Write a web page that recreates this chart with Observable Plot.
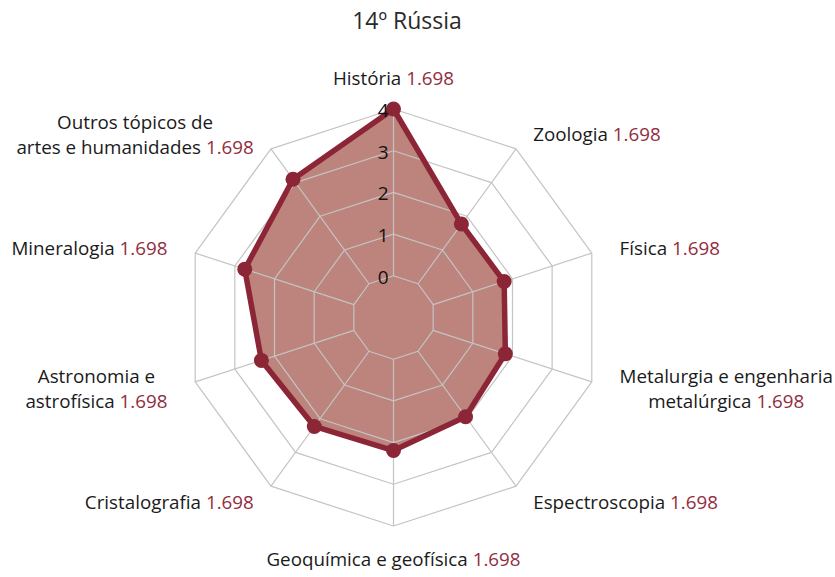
<!DOCTYPE html>
<html><head><meta charset="utf-8">
<script src="https://cdn.jsdelivr.net/npm/d3@7"></script>
<script src="https://cdn.jsdelivr.net/npm/@observablehq/plot@0.6"></script>
<style>
body{margin:0;background:#fff;font-family:"Open Sans","Noto Sans",sans-serif;}
#title{height:40px;line-height:40px;text-align:center;font-size:23px;color:#2a2a2a;padding-right:21px;}
#chart svg{display:block;}
</style></head><body>
<div id="title">14º Rússia</div>
<div id="chart"></div>
<script>
// ---- data ----
const categories = [
  "História",
  "Zoologia",
  "Física",
  "Metalurgia e engenharia\nmetalúrgica",
  "Espectroscopia",
  "Geoquímica e geofísica",
  "Cristalografia",
  "Astronomia e\nastrofísica",
  "Mineralogia",
  "Outros tópicos de\nartes e humanidades"
];
const values = [4, 1.77, 1.79, 1.82, 1.94, 2.19, 2.23, 2.33, 2.75, 3.1];
const shownValues = ["1.698","1.698","1.698","1.698","1.698","1.698","1.698","1.698","1.698","1.698"];
const ticks = [0, 1, 2, 3, 4];
const centerValue = -1;

// ---- layout ----
const W = 835, H = 537, unit = 41.7, cx = 393, cy = 277;
const labelRx = 5.7, labelRy = 5.45;
const red = "#8c2636";
const numColor = "#922d3d";

const n = categories.length;
const ang = i => (i * 2 * Math.PI) / n;
const rad = v => v - centerValue;

const rings = ticks.flatMap(t =>
  d3.range(n + 1).map(i => ({ring: t, x: rad(t) * Math.sin(ang(i % n)), y: rad(t) * Math.cos(ang(i % n))}))
);
const spokes = categories.map((c, i) => ({
  x1: rad(ticks[0]) * Math.sin(ang(i)), y1: rad(ticks[0]) * Math.cos(ang(i)),
  x2: rad(ticks[ticks.length - 1]) * Math.sin(ang(i)), y2: rad(ticks[ticks.length - 1]) * Math.cos(ang(i))
}));
const pts = values.map((v, i) => ({x: rad(v) * Math.sin(ang(i)), y: rad(v) * Math.cos(ang(i))}));
const poly = [...pts, pts[0]];
const labels = categories.map((c, i) => ({
  text: c + " " + shownValues[i],
  x: labelRx * Math.sin(ang(i)), y: labelRy * Math.cos(ang(i)),
  s: Math.sin(ang(i)), c: Math.cos(ang(i))
}));

const plot = Plot.plot({
  width: W, height: H,
  margin: 0,
  x: {domain: [-cx / unit, (W - cx) / unit], axis: null},
  y: {domain: [-(H - cy) / unit, cy / unit], axis: null},
  style: {fontFamily: "'Open Sans', 'Noto Sans', sans-serif", background: "#fff"},
  marks: [
    Plot.line(poly, {x: "x", y: "y", fill: "#bc847d", stroke: "none"}),
    Plot.line(rings, {x: "x", y: "y", z: "ring", stroke: "#c4c4c4", strokeWidth: 1.2}),
    Plot.link(spokes, {x1: "x1", y1: "y1", x2: "x2", y2: "y2", stroke: "#c4c4c4", strokeWidth: 1.2}),
    Plot.line(poly, {x: "x", y: "y", stroke: red, strokeWidth: 5.5, strokeLinejoin: "round"}),
    Plot.dot(pts, {x: "x", y: "y", r: 7.5, fill: red}),
    Plot.text(ticks, {x: t => 0, y: t => rad(t), text: t => String(t), textAnchor: "end", dx: -5, dy: 2, fontSize: 19, fill: "#111"}),
    Plot.text(labels, {x: "x", y: "y", text: "text", textAnchor: "middle", lineAnchor: "middle", lineHeight: 1.3, fontSize: 18.8, fill: "#1a1a1a", className: "cat-label"})
  ]
});
document.getElementById("chart").appendChild(plot);

// colour the numbers and let side labels hang off their anchor points
const ns = "http://www.w3.org/2000/svg";
const texts = plot.querySelectorAll("g.cat-label text");
texts.forEach((t, i) => {
  const spans = t.querySelectorAll("tspan");
  const num = document.createElementNS(ns, "tspan");
  num.setAttribute("fill", numColor);
  num.textContent = shownValues[i];
  if (spans.length) {
    const last = spans[spans.length - 1];
    const s = last.textContent;
    last.textContent = s.slice(0, s.lastIndexOf(shownValues[i]));
    last.after(num);
  } else {
    const s = t.textContent;
    t.textContent = "";
    const name = document.createElementNS(ns, "tspan");
    name.textContent = s.slice(0, s.lastIndexOf(shownValues[i]));
    t.appendChild(name);
    t.appendChild(num);
  }
  const b = t.getBBox();
  const L = labels[i];
  const dx = L.s > 0.1 ? b.width / 2 : L.s < -0.1 ? -b.width / 2 : 0;
  const dy = Math.abs(L.s) < 0.1 ? -L.c * b.height / 2 : 0;
  t.setAttribute("transform", (t.getAttribute("transform") || "") + ` translate(${dx},${dy})`);
});
</script>
</body></html>
